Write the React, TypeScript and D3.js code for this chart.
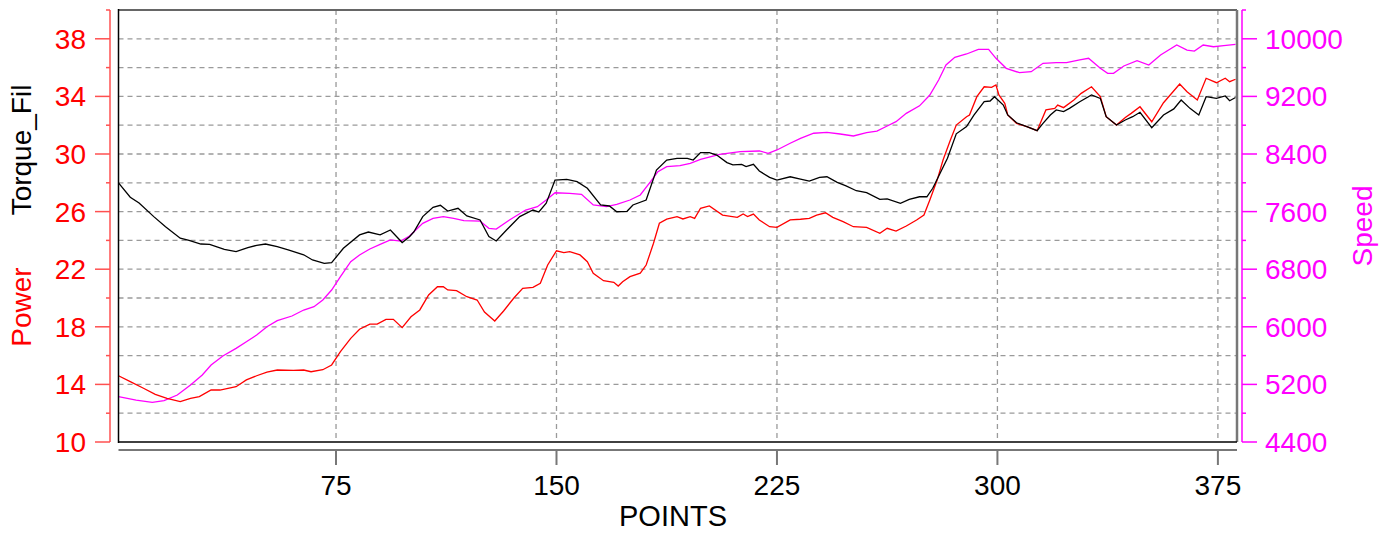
import * as d3 from "d3";

const W = 1384;
const H = 534;

// [point, value] pairs
const torque: [number, number][] = [
  [1, 28.0], [5, 27.0], [8, 26.6], [13, 25.65], [17, 24.95], [22, 24.15], [25, 24.0],
  [29, 23.75], [32, 23.73], [37, 23.38], [41, 23.22], [45, 23.5], [48, 23.66], [51, 23.75],
  [55, 23.56], [59, 23.33], [64, 23.0], [67, 22.64], [71, 22.41], [73.5, 22.45], [77.5, 23.45],
  [83, 24.38], [86, 24.58], [90, 24.38], [93.5, 24.72], [97.5, 23.85], [100, 24.26],
  [101.5, 24.6], [104.5, 25.65], [108, 26.3], [110.5, 26.44], [113, 26.04], [116.5, 26.23],
  [119.5, 25.7], [124, 25.42], [127, 24.26], [129.5, 23.96], [133, 24.72], [137.5, 25.65],
  [142, 26.11], [144, 25.97], [146.5, 26.58], [149.5, 28.19], [153.5, 28.24], [157, 28.08],
  [160.5, 27.62], [165, 26.46], [168, 26.39], [170.5, 25.99], [174, 26.02], [176, 26.46],
  [180.5, 26.8], [184, 28.89], [187.5, 29.58], [191, 29.7], [194.5, 29.7], [196.5, 29.58],
  [199, 30.1], [202, 30.09], [204.5, 29.93], [208, 29.4], [210, 29.24], [213, 29.28],
  [214.5, 29.12], [217, 29.28], [219, 28.82], [222.5, 28.38], [225, 28.19], [229.5, 28.42],
  [233, 28.26], [236, 28.12], [239.5, 28.38], [242, 28.42], [245.5, 28.03], [248.5, 27.78],
  [252, 27.45], [255.5, 27.31], [260, 26.85], [262.5, 26.88], [267, 26.58], [270, 26.85],
  [273.5, 27.03], [276, 27.03], [278, 27.62], [280.5, 28.66], [283, 29.7], [286, 31.4],
  [289.5, 31.9], [292, 32.7], [295.5, 33.63], [297.5, 33.68], [299, 33.98], [302, 33.4],
  [303.5, 32.71], [306.5, 32.17], [310, 31.9], [313.5, 31.62], [315.5, 32.13], [318, 32.71],
  [320, 33.06], [322.5, 32.94], [324.5, 33.17], [328, 33.63], [332, 34.1], [335, 33.86],
  [337, 32.59], [340.5, 32.01], [343.5, 32.36], [346, 32.59], [348.5, 32.9], [352.5, 31.83],
  [356.5, 32.71], [360, 33.13], [362.5, 33.75], [365.5, 33.17], [368.5, 32.71], [371, 33.98],
  [374.5, 33.86], [377.5, 34.03], [379, 33.7], [381, 33.92],
];

const power: [number, number][] = [
  [1, 14.6], [5, 14.19], [9.5, 13.73], [13.5, 13.31], [17.5, 13.03], [22, 12.8], [25.5, 13.03],
  [28.5, 13.15], [32.5, 13.61], [35.5, 13.61], [41, 13.84], [44.5, 14.31], [48, 14.6],
  [51.5, 14.86], [55, 15.0], [60.5, 14.98], [64, 15.0], [66.5, 14.88], [70.5, 15.02],
  [73.5, 15.35], [76.5, 16.27], [80, 17.2], [83, 17.83], [86.5, 18.19], [89, 18.19],
  [92, 18.52], [94.5, 18.52], [97.5, 17.94], [100.5, 18.7], [103.5, 19.17], [106.5, 20.21],
  [109.5, 20.78], [111.5, 20.78], [113, 20.56], [116, 20.51], [119.5, 20.09], [123, 19.86],
  [125.5, 19.03], [129, 18.4], [132, 19.1], [135.5, 20.0], [138.5, 20.67], [142, 20.74],
  [144.5, 21.02], [147, 22.29], [150, 23.28], [152.5, 23.15], [154.5, 23.22], [158, 22.99],
  [160.5, 22.52], [162.5, 21.72], [166, 21.2], [169.5, 21.09], [171, 20.83], [172.5, 21.13],
  [175, 21.48], [178.5, 21.72], [180.5, 22.29], [183, 23.8], [185, 25.19], [187.5, 25.47],
  [191, 25.65], [193, 25.49], [195.5, 25.65], [197, 25.53], [199, 26.23], [202, 26.39],
  [206.5, 25.76], [211.5, 25.6], [213.5, 25.83], [215, 25.65], [217, 25.83], [219, 25.42],
  [222.5, 24.95], [225, 24.91], [229.5, 25.42], [233, 25.47], [236, 25.53], [238.5, 25.76],
  [241.5, 25.92], [244, 25.6], [247.5, 25.3], [251, 24.95], [255.5, 24.91], [260, 24.49],
  [262.5, 24.84], [265.5, 24.65], [269, 25.0], [272.5, 25.42], [275, 25.76], [277, 26.81],
  [279.5, 28.19], [281.5, 29.58], [284, 30.97], [286, 32.01], [289.5, 32.59], [290.5, 32.71],
  [293, 33.98], [295.5, 34.67], [298, 34.63], [299.5, 34.79], [300.5, 34.1], [302.5, 33.52],
  [303.5, 32.71], [306.5, 32.13], [310, 31.9], [313.5, 31.62], [316.5, 33.06], [319.5, 33.17],
  [320.5, 33.4], [322.5, 33.22], [326, 33.75], [328.5, 34.21], [332, 34.67], [335, 33.98],
  [337, 32.59], [340.5, 32.01], [343.5, 32.54], [345.5, 32.82], [348.5, 33.28], [352.5, 32.24],
  [356.5, 33.56], [362, 34.86], [364.5, 34.33], [368, 33.75], [371, 35.26], [374.5, 34.95],
  [377.5, 35.26], [379, 35.02], [381, 35.19],
];

const speed: [number, number][] = [
  [1, 5029], [7, 4983], [12.5, 4951], [16.5, 4974], [21, 5053], [25.5, 5192], [29.5, 5331],
  [32.5, 5469], [36.5, 5594], [41, 5701], [44.5, 5793], [48, 5886], [51.5, 6001], [55, 6085],
  [60, 6150], [64, 6233], [67.5, 6279], [70.5, 6372], [73.5, 6511], [76.5, 6696], [80, 6904],
  [83, 6997], [86.5, 7081], [90, 7146], [93.5, 7206], [97, 7190], [100, 7261], [101.5, 7321],
  [104.5, 7437], [108, 7507], [111.5, 7529], [115, 7507], [118.5, 7474], [124, 7469],
  [127, 7368], [129.5, 7358], [134, 7483], [139.5, 7622], [143.5, 7668], [146.5, 7761],
  [149.5, 7862], [154.5, 7853], [158.5, 7840], [162.5, 7692], [167, 7668], [170.5, 7701],
  [175, 7761], [178.5, 7831], [182, 8015], [184.5, 8154], [187.5, 8224], [192, 8238],
  [195.5, 8271], [199, 8326], [205.5, 8396], [212.5, 8432], [219, 8442], [222, 8410],
  [225, 8456], [229.5, 8549], [233, 8618], [237.5, 8688], [242, 8701], [246.5, 8678],
  [251, 8650], [255.5, 8696], [259, 8719], [262.5, 8789], [265.5, 8849], [269, 8965],
  [273.5, 9069], [277, 9219], [280, 9428], [282.5, 9636], [285.5, 9743], [289.5, 9789],
  [293.5, 9854], [297, 9854], [299.5, 9729], [303, 9590], [307.5, 9529], [311.5, 9543],
  [315.5, 9660], [320, 9668], [323.5, 9668], [328, 9706], [331, 9729], [335, 9590],
  [337.5, 9521], [339.5, 9521], [343, 9622], [347.5, 9696], [351.5, 9636], [355.5, 9775],
  [361, 9914], [364.5, 9844], [367, 9830], [370, 9914], [373.5, 9890], [377, 9904],
  [381, 9923],
];

const xTicks = [75, 150, 225, 300, 375];
const leftTicks = [10, 14, 18, 22, 26, 30, 34, 38];
const leftMinor = [12, 16, 20, 24, 28, 32, 36, 40];
const rightTicks = [4400, 5200, 6000, 6800, 7600, 8400, 9200, 10000];
const rightMinor = [4800, 5600, 6400, 7200, 8000, 8800, 9600, 10400];
const gridY = [12, 14, 16, 18, 20, 22, 24, 26, 28, 30, 32, 34, 36, 38];

const FONT = "'Liberation Sans', Arial, sans-serif";

export default function App() {
  const left = 118.5;
  const right = 1237;
  const top = 10;
  const bottom = 442;

  const x = d3.scaleLinear().domain([1, 381.5]).range([left, right]);
  const yL = d3.scaleLinear().domain([10, 40]).range([bottom, top]);
  const yR = d3.scaleLinear().domain([4400, 10400]).range([bottom, top]);

  const lineL = d3
    .line<[number, number]>()
    .x((d) => x(d[0]))
    .y((d) => yL(d[1]));
  const lineR = d3
    .line<[number, number]>()
    .x((d) => x(d[0]))
    .y((d) => yR(d[1]));

  const redAxisX = 110;
  const magAxisX = 1242;
  const xAxisY = 450;

  return (
    <svg
      width={W}
      height={H}
      style={{ position: "absolute", left: 0, top: 0, background: "#fff" }}
      fontFamily={FONT}
    >
      {/* grid */}
      <g stroke="#9a9a9a" strokeWidth={1.3} strokeDasharray="5,4">
        {gridY.map((v) => (
          <line key={"gy" + v} x1={left} x2={right} y1={yL(v)} y2={yL(v)} />
        ))}
        {xTicks.map((v) => (
          <line key={"gx" + v} x1={x(v)} x2={x(v)} y1={top} y2={bottom} />
        ))}
      </g>

      {/* series */}
      <path d={lineR(speed) ?? ""} fill="none" stroke="#ff00ff" strokeWidth={1.3} />
      <path d={lineL(power) ?? ""} fill="none" stroke="#ff0000" strokeWidth={1.3} />
      <path d={lineL(torque) ?? ""} fill="none" stroke="#000" strokeWidth={1.3} />

      {/* frame */}
      <line x1={left} x2={right} y1={top} y2={top} stroke="#666" strokeWidth={2} />
      <line x1={right} x2={right} y1={top} y2={bottom} stroke="#777" strokeWidth={2.5} />
      <line x1={left} x2={left} y1={top - 1} y2={bottom + 1} stroke="#000" strokeWidth={1.5} />
      <line x1={left} x2={right} y1={bottom} y2={bottom} stroke="#000" strokeWidth={1.5} />

      {/* left axis */}
      <g stroke="#ff5050" strokeWidth={1.5}>
        <line x1={redAxisX} x2={redAxisX} y1={top} y2={bottom} />
        {leftTicks.map((v) => (
          <line key={"lt" + v} x1={redAxisX - 15} x2={redAxisX} y1={yL(v)} y2={yL(v)} />
        ))}
        {leftMinor.map((v) => (
          <line key={"lm" + v} x1={redAxisX - 4} x2={redAxisX} y1={yL(v)} y2={yL(v)} />
        ))}
      </g>
      <g fill="#ff0000" fontSize={28} textAnchor="end">
        {leftTicks.map((v) => (
          <text key={"ll" + v} x={86} y={yL(v)} dy="0.36em">
            {v}
          </text>
        ))}
      </g>

      {/* right axis */}
      <g stroke="#ff00ff" strokeWidth={1.5}>
        <line x1={magAxisX} x2={magAxisX} y1={top} y2={bottom} />
        {rightTicks.map((v) => (
          <line key={"rt" + v} x1={magAxisX} x2={magAxisX + 15} y1={yR(v)} y2={yR(v)} />
        ))}
        {rightMinor.map((v) => (
          <line key={"rm" + v} x1={magAxisX} x2={magAxisX + 4} y1={yR(v)} y2={yR(v)} />
        ))}
      </g>
      <g fill="#ff00ff" fontSize={28} textAnchor="start">
        {rightTicks.map((v) => (
          <text key={"rl" + v} x={1265} y={yR(v)} dy="0.36em">
            {v}
          </text>
        ))}
      </g>

      {/* bottom axis */}
      <g stroke="#777" strokeWidth={2}>
        <line x1={left} x2={right} y1={xAxisY} y2={xAxisY} />
        {xTicks.map((v) => (
          <line key={"xt" + v} x1={x(v)} x2={x(v)} y1={xAxisY} y2={xAxisY + 15} />
        ))}
      </g>
      <g fill="#000" fontSize={28} textAnchor="middle">
        {xTicks.map((v) => (
          <text key={"xl" + v} x={x(v)} y={495}>
            {v}
          </text>
        ))}
      </g>

      {/* titles */}
      <text x={673} y={526} fontSize={29} textAnchor="middle" fill="#000">
        POINTS
      </text>
      <text transform="translate(31,150) rotate(-90)" fontSize={28} textAnchor="middle" fill="#000">
        Torque_Fil
      </text>
      <text transform="translate(31,307) rotate(-90)" fontSize={28} textAnchor="middle" fill="#ff0000">
        Power
      </text>
      <text transform="translate(1372,226) rotate(-90)" fontSize={28} textAnchor="middle" fill="#ff00ff">
        Speed
      </text>
    </svg>
  );
}
